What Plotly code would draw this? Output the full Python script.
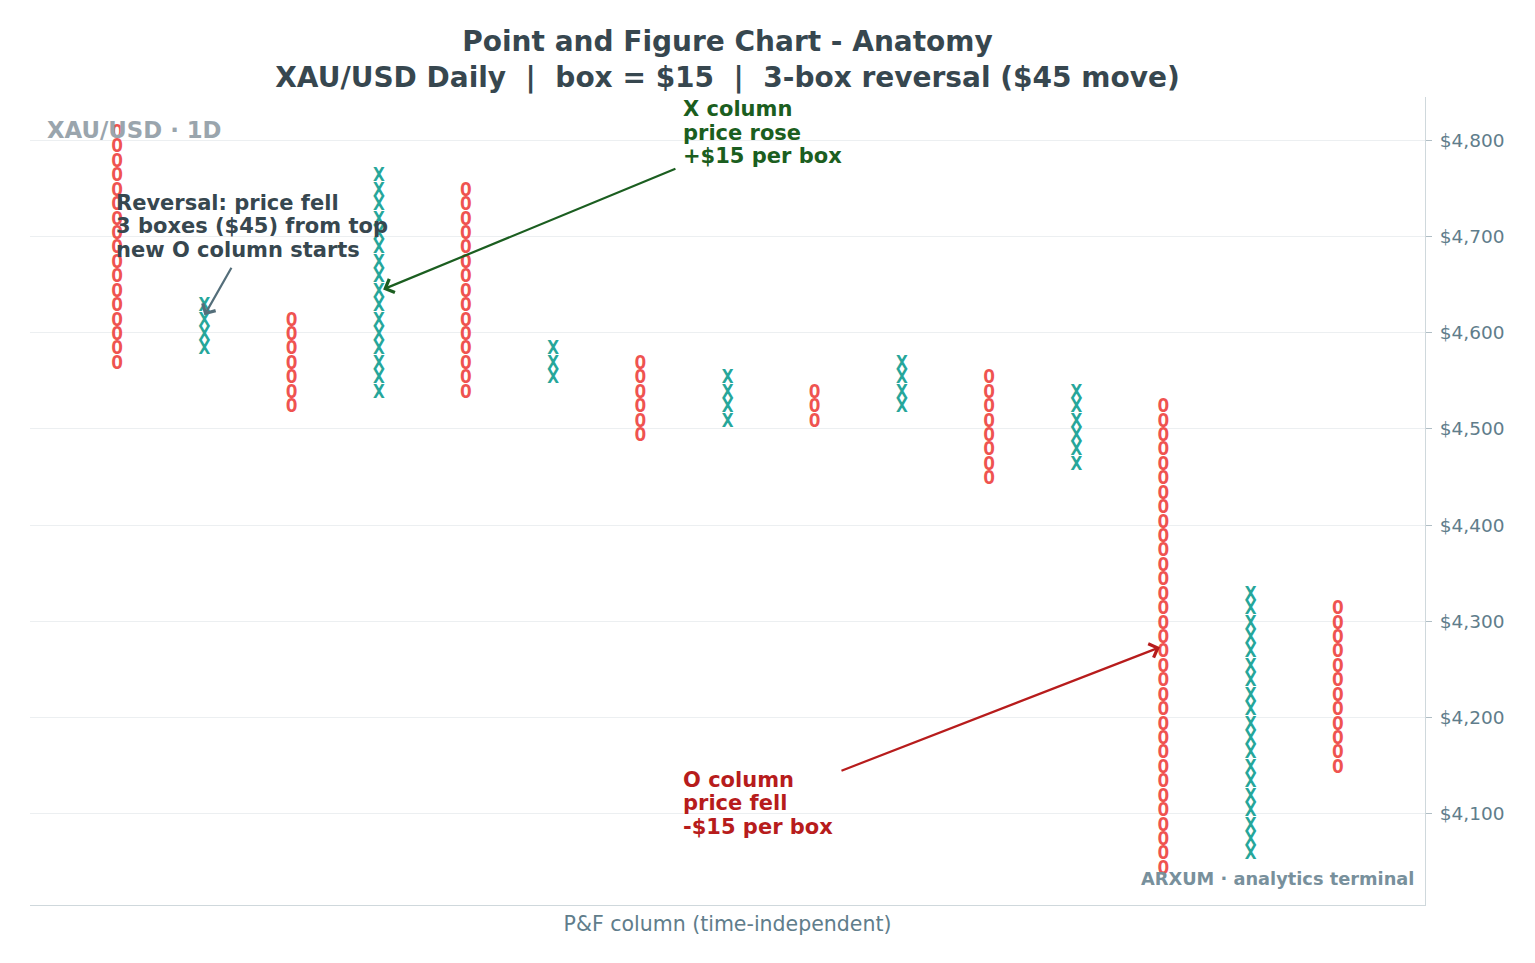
import numpy as np
import plotly.graph_objects as go

# P&F columns (box centres, $15 boxes, 3-box reversal)
BOX = 15
col_type = ["O", "X", "O", "X", "O", "X", "O", "X", "O", "X", "O", "X", "O", "X", "O"]
col_high = [4807.5, 4627.5, 4612.5, 4762.5, 4747.5, 4582.5, 4567.5, 4552.5,
            4537.5, 4567.5, 4552.5, 4537.5, 4522.5, 4327.5, 4312.5]
col_low = [4567.5, 4582.5, 4522.5, 4537.5, 4537.5, 4552.5, 4492.5, 4507.5,
           4507.5, 4522.5, 4447.5, 4462.5, 4042.5, 4057.5, 4147.5]

y_ticks = [4100, 4200, 4300, 4400, 4500, 4600, 4700, 4800]
y_labels = [f"${v:,}" for v in y_ticks]

COLORS = {"X": "#26a69a", "O": "#ef5350"}
FONT = "DejaVu Sans"

fig = go.Figure()

for kind in ["X", "O"]:
    xs, ys = [], []
    for i, (t, hi, lo) in enumerate(zip(col_type, col_high, col_low)):
        if t != kind:
            continue
        boxes = np.arange(lo, hi + BOX / 2, BOX)
        xs += [i] * len(boxes)
        ys += list(boxes)
    fig.add_trace(go.Scatter(
        x=xs, y=ys, mode="text", text=[f"<b>{kind}</b>"] * len(xs),
        textposition="middle center",
        textfont=dict(family="DejaVu Sans Mono", size=19.5, color=COLORS[kind]),
        hoverinfo="skip", showlegend=False, cliponaxis=False,
    ))


def add_block(x, y_mid, lines, color, size=21, spacing=23.5):
    n = len(lines)
    for k, line in enumerate(lines):
        fig.add_annotation(
            x=x, y=y_mid, xref="x", yref="y", text=f"<b>{line}</b>",
            showarrow=False, xanchor="left", yanchor="middle",
            xshift=-3, yshift=((n - 1) / 2 - k) * spacing,
            font=dict(family=FONT, size=size, color=color),
        )


def add_arrow(head, tail, color):
    fig.add_annotation(
        x=head[0], y=head[1], ax=tail[0], ay=tail[1],
        xref="x", yref="y", axref="x", ayref="y", text="",
        showarrow=True, arrowhead=4, arrowsize=1.3, arrowwidth=2.2,
        arrowcolor=color, standoff=0,
    )


add_block(0, 4710.5, ["Reversal: price fell", "3 boxes ($45) from top", "new O column starts"], "#37474f")
add_arrow((1.0, 4618), (1.32, 4669), "#546e7a")

add_block(6.5, 4808, ["X column", "price rose", "+$15 per box"], "#1b5e20")
add_arrow((3.05, 4645), (6.42, 4771), "#1b5e20")

add_block(6.5, 4111, ["O column", "price fell", "-$15 per box"], "#b71c1c")
add_arrow((11.96, 4273), (8.29, 4144), "#b71c1c")

fig.add_annotation(
    x=0.0108, y=0.959, xref="paper", yref="paper", text="<b>XAU/USD · 1D</b>",
    showarrow=False, xanchor="left", yanchor="middle",
    font=dict(family=FONT, size=22.8, color="#9aa5ad"),
)
fig.add_annotation(
    x=0.9935, y=0.0334, xref="paper", yref="paper", text="<b>ARXUM · analytics terminal</b>",
    showarrow=False, xanchor="right", yanchor="middle",
    font=dict(family=FONT, size=17.8, color="#78909c"),
)

fig.update_layout(
    width=1519, height=947,
    margin=dict(l=22, r=102, t=89, b=50),
    paper_bgcolor="white", plot_bgcolor="white",
    font=dict(family=FONT),
    title=dict(
        text="<b>Point and Figure Chart - Anatomy<br>XAU/USD Daily  |  box = $15  |  3-box reversal ($45 move)</b>",
        x=0.5, xref="paper", xanchor="center",
        y=1 - 43 / 947, yref="container", yanchor="middle",
        font=dict(family=FONT, size=28, color="#37474f"),
    ),
    xaxis=dict(
        range=[-1, 15], showticklabels=False, ticks="", showgrid=False, zeroline=False,
        showline=True, linecolor="#cfd8dc", linewidth=1.2,
        title=dict(text="P&F column (time-independent)", standoff=11,
                   font=dict(family=FONT, size=20.5, color="#607d8b")),
    ),
    yaxis=dict(
        range=[4005, 4845], side="right", tickvals=y_ticks, ticktext=y_labels,
        ticks="outside", ticklen=6, tickcolor="#b0bec5", tickwidth=1.2,
        ticklabelstandoff=4,
        tickfont=dict(family=FONT, size=18.5, color="#607d8b"),
        showgrid=True, gridcolor="#eceff1", gridwidth=1, zeroline=False,
        showline=True, linecolor="#cfd8dc", linewidth=1.2,
    ),
)

fig.write_html("out.html")
